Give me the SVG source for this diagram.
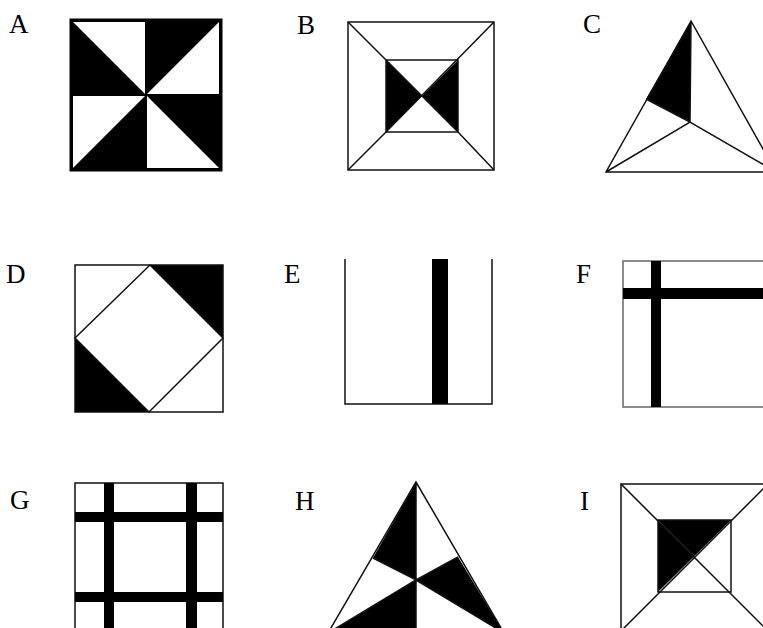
<svg xmlns="http://www.w3.org/2000/svg" width="763" height="628" viewBox="0 0 763 628">
<style>
.lbl{font-family:"Liberation Serif","Times New Roman",serif;font-size:27px;fill:#000}
.ln{fill:none;stroke:#111;stroke-width:1.5;stroke-linejoin:miter}
.blk{fill:#000;stroke:none}
.wht{fill:#fff;stroke:none}
</style>
<rect width="763" height="628" fill="#fff"/>
<g id="panelA">
<text class="lbl" x="9" y="33">A</text>
<rect class="blk" x="71" y="20" width="150" height="150"/>
<polygon class="wht" points="73,22 145,22 145,94"/>
<polygon class="wht" points="219,22 219,94 147,94"/>
<polygon class="wht" points="147,96 219,168 147,168"/>
<polygon class="wht" points="73,96 145,96 73,168"/>
<rect x="71" y="20" width="150" height="150" fill="none" stroke="#000" stroke-width="3"/>
</g>
<g id="panelB">
<text class="lbl" x="297" y="34">B</text>
<polygon class="blk" points="386,60 422,96 386,132"/>
<polygon class="blk" points="458,60 422,96 458,132"/>
<rect class="ln" x="348" y="22" width="146" height="148"/>
<rect class="ln" x="386" y="60" width="72" height="72"/>
<path class="ln" d="M348,22 L458,132 M494,22 L386,132 M348,170 L386,132 M494,170 L458,132"/>
</g>
<g id="panelC">
<text class="lbl" x="583" y="33">C</text>
<polygon class="blk" points="691,21 646,99 690,122"/>
<path class="ln" d="M691,21 L606,172 L776,172 Z M691,21 L690,122 M646,99 L690,122 M606,172 L690,122 L776,172"/>
</g>
<g id="panelD">
<text class="lbl" x="6" y="283">D</text>
<polygon class="blk" points="150,265 223,265 223,338"/>
<polygon class="blk" points="75,338 75,412 149,412"/>
<rect class="ln" x="75" y="265" width="148" height="147"/>
<polygon class="ln" points="150,265 223,338 149,412 75,338"/>
</g>
<g id="panelE">
<text class="lbl" x="284" y="283">E</text>
<rect class="blk" x="432" y="259" width="16" height="145"/>
<path class="ln" d="M345,259 L345,404 L492,404 L492,259"/>
</g>
<g id="panelF">
<text class="lbl" x="576" y="283">F</text>
<rect x="623" y="261" width="150" height="146" fill="none" stroke="#666" stroke-width="1.5"/>
<rect class="blk" x="651" y="261" width="10" height="146"/>
<rect class="blk" x="623" y="288" width="145" height="11"/>
</g>
<g id="panelG">
<text class="lbl" x="10" y="509">G</text>
<rect class="ln" x="75" y="483" width="148" height="148"/>
<rect class="blk" x="104" y="483" width="10" height="148"/>
<rect class="blk" x="186" y="483" width="11" height="148"/>
<rect class="blk" x="75" y="512" width="148" height="10"/>
<rect class="blk" x="75" y="592" width="148" height="10"/>
</g>
<g id="panelH">
<text class="lbl" x="295" y="510">H</text>
<polygon class="blk" points="416,482 373,558 416,580"/>
<polygon class="blk" points="458,557 504,633 416,580"/>
<polygon class="blk" points="416,580 328,633 416,633"/>
<path class="ln" d="M416,482 L328,633 L504,633 Z M416,482 L416,633 M373,558 L416,580 L458,557 M328,633 L416,580 L504,633"/>
</g>
<g id="panelI">
<text class="lbl" x="580" y="510">I</text>
<polygon class="blk" points="658,520 731,520 694.5,556"/>
<polygon class="blk" points="658,520 694.5,556 658,592"/>
<rect class="ln" x="621" y="484" width="147" height="147"/>
<rect class="ln" x="658" y="520" width="73" height="72"/>
<path class="ln" d="M621,484 L768,631 M768,484 L621,631" stroke="#555"/>
</g>
</svg>
